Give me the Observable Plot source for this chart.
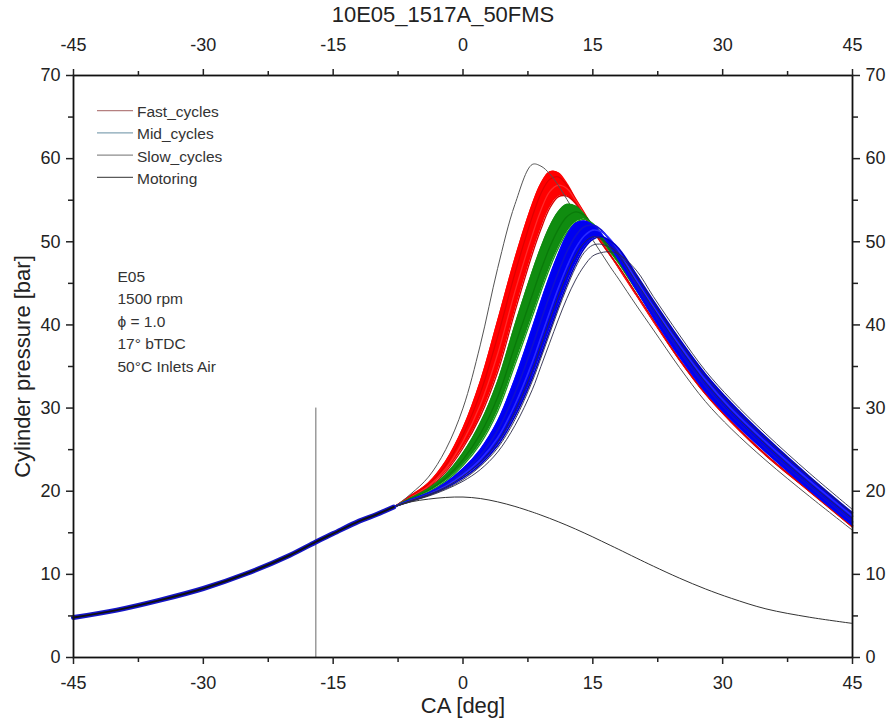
<!DOCTYPE html>
<html><head><meta charset="utf-8">
<script src="https://cdn.jsdelivr.net/npm/d3@7"></script>
<script src="https://cdn.jsdelivr.net/npm/@observablehq/plot@0.6"></script>
<style>
body{margin:0;background:#fff;}
#wrap{position:relative;width:891px;height:724px;font-family:"Liberation Sans",Arial,sans-serif;}
#legend{position:absolute;left:0;top:0;pointer-events:none;}
</style></head><body><div id="wrap"></div>
<script>
// ---- data ----
const titleText = "10E05_1517A_50FMS";
const xTicks = [-45, -30, -15, 0, 15, 30, 45];
const xMinor = [-37.5, -22.5, -7.5, 7.5, 22.5, 37.5];
const yTicks = [0, 10, 20, 30, 40, 50, 60, 70];
const yMinor = [5, 15, 25, 35, 45, 55, 65];
const sparkCA = [-17];
const sparkRange = [0, 30];
const legendNames = ["Fast_cycles", "Mid_cycles", "Slow_cycles", "Motoring"];
const legendColors = ["#b58080", "#84a4b4", "#8c8c8c", "#5a5a5a"];
const noteLines = ["E05", "1500 rpm", "\u03D5 = 1.0", "17\u00B0 bTDC", "50\u00B0C Inlets Air"];

// shared compression stroke (CA, bar)
const compressionCA = [-45, -40, -35, -30, -25, -20, -17, -15, -12, -10, -8];
const compressionP  = [4.8, 5.7, 6.9, 8.3, 10.1, 12.3, 13.9, 14.9, 16.4, 17.2, 18.1];
// crank angles after divergence
const burnCA = [-6, -4, -2, 0, 2, 4, 6, 8, 9, 10, 11, 12, 13, 14, 15, 16, 17, 18, 20, 22, 25, 28, 31, 35, 40, 45];

const motoringP = [18.72,19.05,19.25,19.3,19.12,18.72,18.17,17.5,17.13,16.74,16.33,15.9,15.45,14.98,14.5,14.0,13.5,13.0,11.98,10.98,9.55,8.25,7.12,5.85,4.85,4.1];

const fast1 = [19.5,21.0,23.6,27.6,33.2,40.5,48.0,54.5,57.0,58.4,58.3,57.0,55.2,53.5,51.7,50.1,48.5,46.8,43.6,40.4,35.8,31.7,28.3,24.3,20.0,15.7];
const fast2 = [19.4,20.8,23.1,26.8,31.8,38.6,46.2,53.0,55.8,57.5,57.8,56.8,55.1,53.4,51.6,50.0,48.4,46.9,43.7,40.5,35.8,31.7,28.3,24.3,20.0,15.7];
const fast3 = [19.3,20.6,22.7,26.0,30.4,36.5,44.0,50.8,53.8,56.0,56.8,56.4,55.0,53.3,51.5,49.9,48.4,46.9,43.7,40.5,35.9,31.8,28.4,24.4,20.1,15.8];
const fast4 = [19.2,20.4,22.3,25.2,29.0,34.3,41.6,48.5,51.5,54.0,55.4,55.5,54.6,53.0,51.4,49.8,48.4,47.0,43.8,40.6,35.9,31.8,28.4,24.4,20.1,15.8];

const mid1 = [19.2,20.3,22.0,24.6,28.2,33.2,40.0,46.4,49.3,51.8,53.6,54.5,54.3,53.3,51.8,50.3,48.8,47.4,44.2,41.0,36.4,32.2,28.8,24.8,20.2,15.9];
const mid2 = [19.1,20.1,21.6,23.8,26.9,31.3,37.5,43.6,46.6,49.3,51.5,53.0,53.6,53.2,52.0,50.5,49.0,47.6,44.4,41.2,36.6,32.4,29.0,25.0,20.4,16.1];
const mid3 = [19.0,19.9,21.2,23.1,25.7,29.6,35.2,41.0,44.0,46.8,49.2,51.1,52.3,52.7,52.2,50.9,49.4,47.8,44.6,41.4,36.8,32.6,29.2,25.2,20.6,16.3];

const slow1 = [19.0,19.8,21.0,22.7,25.0,28.4,33.5,39.6,42.8,45.8,48.5,50.8,52.2,52.5,52.0,50.9,49.4,47.8,44.3,40.9,36.2,32.0,28.6,24.7,20.2,15.9];
const slow2 = [18.9,19.7,20.8,22.3,24.3,27.3,31.8,37.4,40.5,43.5,46.3,48.8,50.7,51.8,52.0,51.4,50.1,48.5,44.8,41.4,36.8,32.6,29.1,25.1,20.6,16.3];
const slow3 = [18.9,19.6,20.6,22.0,23.8,26.4,30.4,35.5,38.5,41.5,44.4,47.0,49.2,50.7,51.4,51.2,50.3,48.9,45.4,42.2,37.6,33.4,29.9,25.9,21.3,17.0];
const slow4 = [18.8,19.5,20.4,21.6,23.2,25.5,29.0,33.6,36.4,39.3,42.2,44.9,47.3,49.2,50.3,50.6,50.1,49.2,46.1,42.9,38.3,34.1,30.6,26.5,21.8,17.4];

const earliestCycle = [19.7,21.7,25.0,30.0,37.6,46.8,54.5,59.3,59.1,58.2,56.8,55.1,53.4,51.8,50.2,48.6,47.0,45.5,42.4,39.4,34.9,30.8,27.5,23.7,19.4,15.3];
const lateCycle1 = [18.8,19.4,20.2,21.2,22.6,24.7,27.9,32.2,35.0,37.8,40.6,43.2,45.4,47.1,48.3,48.7,48.8,48.5,46.6,43.4,38.8,34.5,31.0,26.9,22.2,17.8];
const lateCycle2 = [18.8,19.5,20.3,21.4,23.0,25.2,28.6,33.2,36.0,38.9,41.8,44.5,46.9,48.7,49.6,49.7,49.3,48.6,45.9,42.7,38.0,33.8,30.3,26.3,21.7,17.3];
const lateCycle3 = [18.9,19.6,20.5,21.8,23.5,25.9,29.6,34.5,37.5,40.5,43.4,46.1,48.3,49.9,50.6,50.3,49.5,48.3,45.2,42.0,37.3,33.1,29.6,25.6,21.0,16.7];

// ---- build tables ----
function rows(name, burnP) {
  return compressionCA.map((x, i) => ({x, y: compressionP[i], name}))
    .concat(burnCA.map((x, i) => ({x, y: burnP[i], name})));
}
function band(a, b) {
  return compressionCA.map((x, i) => ({x, y1: compressionP[i], y2: compressionP[i]}))
    .concat(burnCA.map((x, i) => ({x, y1: a[i], y2: b[i]})));
}
const fastCurves = [fast1, fast2, fast3, fast4];
const midCurves = [mid1, mid2, mid3];
const slowCurves = [slow1, slow2, slow3, slow4];
const fastRows = fastCurves.flatMap((c, i) => rows("f" + i, c));
const midRows = midCurves.flatMap((c, i) => rows("m" + i, c));
const slowRows = slowCurves.flatMap((c, i) => rows("s" + i, c));
const fastShades = ["#ff0000", "#e00000", "#ff2a2a", "#d40000"];
const midShades = ["#108c10", "#0a7a0a", "#1a9a1a"];
const slowShades = ["#0000ff", "#1010d0", "#2a2aff", "#0000c8"];
const lateRows = [lateCycle1, lateCycle2, lateCycle3].flatMap((c, i) => rows("l" + i, c));
const earlyRows = rows("e", earliestCycle);
const motorRows = rows("mot", motoringP);
const compRows = compressionCA.map((x, i) => ({x, y: compressionP[i]}));

const curve = "catmull-rom";
const font = "Liberation Sans, Arial, sans-serif";
const fmt = d => String(d);

const chart = Plot.plot({
  width: 891, height: 724,
  marginTop: 75, marginBottom: 67, marginLeft: 73, marginRight: 39,
  x: {domain: [-45, 45]},
  y: {domain: [0, 70]},
  style: {fontFamily: font, color: "#222", background: "#fff"},
  marks: [
    Plot.ruleX(sparkCA, {x: d => d, y1: sparkRange[0], y2: sparkRange[1], stroke: "#6a6a6a", strokeWidth: 1}),
    Plot.areaY(band(fast1, fast4), {x: "x", y1: "y1", y2: "y2", fill: "#ff0000", curve}),
    Plot.line(fastRows, {x: "x", y: "y", z: "name", stroke: d => fastShades[+d.name.slice(1)], strokeWidth: 1.3, curve}),
    Plot.line(earlyRows, {x: "x", y: "y", stroke: "#555", strokeWidth: 1, curve}),
    Plot.areaY(band(mid1, mid3), {x: "x", y1: "y1", y2: "y2", fill: "#108c10", curve}),
    Plot.line(midRows, {x: "x", y: "y", z: "name", stroke: d => midShades[+d.name.slice(1)], strokeWidth: 1.3, curve}),
    Plot.areaY(band(slow1, slow4), {x: "x", y1: "y1", y2: "y2", fill: "#0000f0", curve}),
    Plot.line(slowRows, {x: "x", y: "y", z: "name", stroke: d => slowShades[+d.name.slice(1)], strokeWidth: 1.6, curve}),
    Plot.line(lateRows, {x: "x", y: "y", z: "name", stroke: "#2a2a4a", strokeWidth: 0.9, curve}),
    Plot.line(motorRows, {x: "x", y: "y", stroke: "#333", strokeWidth: 1, curve}),
    Plot.line(compRows, {x: "x", y: "y", stroke: "#1414c8", strokeWidth: 5, curve}),
    Plot.line(compRows, {x: "x", y: "y", stroke: "#111", strokeWidth: 2, curve}),
    Plot.frame({stroke: "#111", strokeWidth: 1.8}),
    Plot.axisX(xTicks, {anchor: "bottom", tickSize: 7, tickPadding: 12, fontSize: 18, label: null, strokeWidth: 1.5, tickFormat: fmt}),
    Plot.axisX(xMinor, {anchor: "bottom", tickSize: 5, tickFormat: () => "", label: null, strokeWidth: 1.5}),
    Plot.axisX(xTicks, {anchor: "top", tickSize: 7, tickPadding: 18, fontSize: 18, label: null, strokeWidth: 1.5, tickFormat: fmt}),
    Plot.axisX(xMinor, {anchor: "top", tickSize: 5, tickFormat: () => "", label: null, strokeWidth: 1.5}),
    Plot.axisY(yTicks, {anchor: "left", tickSize: 7, tickPadding: 6, fontSize: 18, label: null, strokeWidth: 1.5, tickFormat: fmt}),
    Plot.axisY(yMinor, {anchor: "left", tickSize: 5, tickFormat: () => "", label: null, strokeWidth: 1.5}),
    Plot.axisY(yTicks, {anchor: "right", tickSize: 7, tickPadding: 6, fontSize: 18, label: null, strokeWidth: 1.5, tickFormat: fmt}),
    Plot.axisY(yMinor, {anchor: "right", tickSize: 5, tickFormat: () => "", label: null, strokeWidth: 1.5}),
    Plot.text([titleText], {frameAnchor: "top", dx: -20, dy: -61, fontSize: 22, fill: "#222", textAnchor: "middle", lineAnchor: "middle"}),
    Plot.text(["CA [deg]"], {frameAnchor: "bottom", dy: 48, fontSize: 22, fill: "#222", textAnchor: "middle", lineAnchor: "middle"}),
    Plot.text(["Cylinder pressure [bar]"], {frameAnchor: "left", dx: -51, rotate: -90, fontSize: 22, fill: "#222", textAnchor: "middle", lineAnchor: "middle"}),
    Plot.text([noteLines.join("\n")], {frameAnchor: "top-left", dx: 44, dy: 190, fontSize: 15.5, fill: "#333", textAnchor: "start", lineAnchor: "top", lineHeight: 1.46})
  ]
});
const wrap = document.getElementById("wrap");
wrap.appendChild(chart);

// legend overlay
const ns = "http://www.w3.org/2000/svg";
const lg = document.createElementNS(ns, "svg");
lg.setAttribute("id", "legend");
lg.setAttribute("width", 891); lg.setAttribute("height", 724);
legendNames.forEach((name, i) => {
  const yLine = 110.7 + i * 22.2;
  const ln = document.createElementNS(ns, "line");
  ln.setAttribute("x1", 97); ln.setAttribute("x2", 133);
  ln.setAttribute("y1", yLine); ln.setAttribute("y2", yLine);
  ln.setAttribute("stroke", legendColors[i]); ln.setAttribute("stroke-width", 1.2);
  lg.appendChild(ln);
  const t = document.createElementNS(ns, "text");
  t.setAttribute("x", 137); t.setAttribute("y", yLine + 6.5);
  t.setAttribute("font-size", 15.5); t.setAttribute("fill", "#333");
  t.setAttribute("font-family", font);
  t.textContent = name;
  lg.appendChild(t);
});
wrap.appendChild(lg);
</script></body></html>
